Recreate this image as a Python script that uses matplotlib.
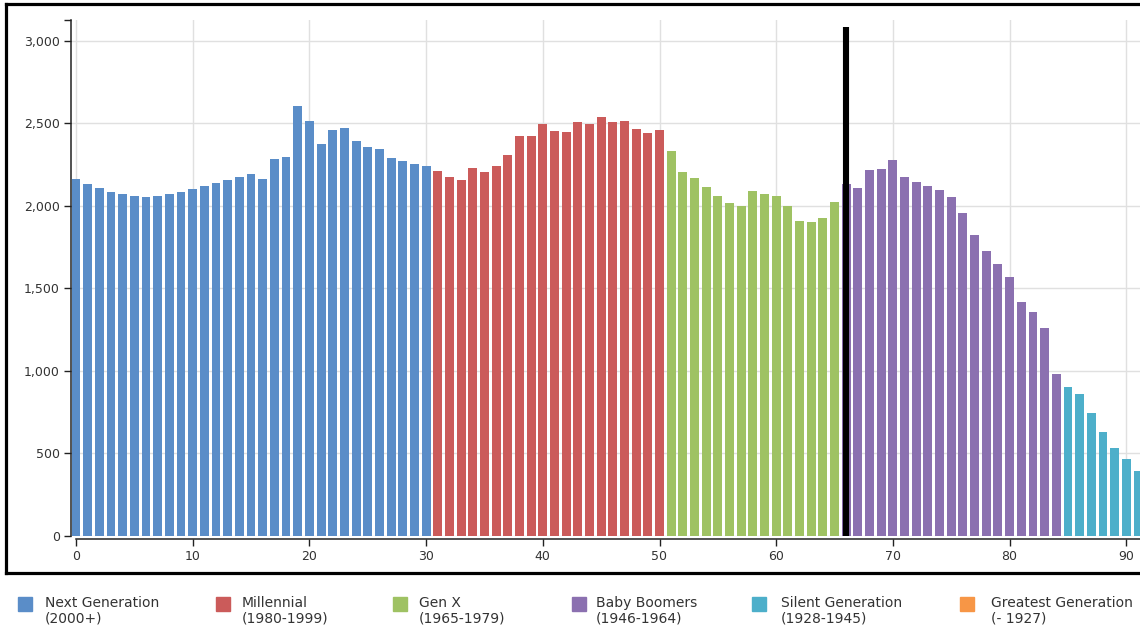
import matplotlib
matplotlib.use("Agg")
import matplotlib.pyplot as plt
from matplotlib.lines import Line2D
from matplotlib.patches import Rectangle
from matplotlib.ticker import FuncFormatter

# ---------------- data ----------------
ages = list(range(0, 92))
population = [2164, 2133, 2107, 2087, 2073, 2063, 2057, 2063, 2073, 2087,
              2103, 2121, 2139, 2158, 2176, 2192, 2162, 2283, 2299, 2606,
              2517, 2376, 2461, 2471, 2392, 2360, 2347, 2289, 2273, 2253,
              2241, 2214, 2176, 2156, 2232, 2204, 2245, 2311, 2422, 2424,
              2497, 2455, 2451, 2511, 2495, 2537, 2507, 2515, 2465, 2440,
              2463, 2331, 2208, 2172, 2117, 2061, 2020, 2000, 2093, 2073,
              2063, 2000, 1909, 1905, 1925, 2026, 2131, 2107, 2216, 2222,
              2277, 2174, 2147, 2123, 2099, 2055, 1958, 1824, 1727, 1646,
              1572, 1416, 1360, 1259, 982, 901, 859, 748, 628, 531,
              467, 392]

gen_names = ["Next Generation", "Millennial", "Gen X", "Baby Boomers",
             "Silent Generation", "Greatest Generation"]
gen_years = ["(2000+)", "(1980-1999)", "(1965-1979)", "(1946-1964)",
             "(1928-1945)", "(- 1927)"]
gen_first_age = [0, 31, 51, 66, 85, 103]
gen_colors = ["#5a8dc8", "#cb5b5a", "#9fc263", "#8b70b0", "#4dafca", "#f79646"]

marker_age = 66
marker_top = 3085

x_ticks = [0, 10, 20, 30, 40, 50, 60, 70, 80, 90]
y_ticks = [0, 500, 1000, 1500, 2000, 2500, 3000]
y_max = 3127

# ---------------- figure ----------------
W, H = 1140, 633
fig = plt.figure(figsize=(W / 100, H / 100), dpi=100)

def fx(px):
    return px / W

def fy(py):
    return 1 - py / H

# axes geometry (pixels)
ax_left, ax_right = 71, 1140
ax_top, ax_bottom = 20, 536
ax = fig.add_axes([fx(ax_left), fy(ax_bottom), fx(ax_right - ax_left),
                   (ax_bottom - ax_top) / H])

def gen_color(age):
    c = gen_colors[0]
    for start, col in zip(gen_first_age, gen_colors):
        if age >= start:
            c = col
    return c

bar_colors = [gen_color(a) for a in ages]
ax.bar(ages, population, width=0.76, color=bar_colors, zorder=2)

ax.plot([marker_age, marker_age], [0, marker_top], color="black", lw=4.4,
        solid_capstyle="butt", zorder=3)

px_per_unit = 11.67
x0_px = 76
ax.set_xlim((ax_left - x0_px) / px_per_unit, (ax_right - x0_px) / px_per_unit)
ax.set_ylim(0, y_max)

ax.set_xticks(x_ticks)
ax.set_yticks(y_ticks)
ax.set_yticks([y_max], minor=True)
ax.yaxis.set_major_formatter(FuncFormatter(lambda v, p: f"{int(v):,}"))

ax.grid(True, color="#e0e0e0", lw=1, zorder=0)
ax.set_axisbelow(True)

for s in ["top", "right"]:
    ax.spines[s].set_visible(False)
ax.spines["left"].set_bounds(0, y_max)
ax.spines["left"].set_color("#222222")
ax.spines["left"].set_linewidth(1.1)
ax.spines["bottom"].set_position(("outward", 2))
ax.spines["bottom"].set_bounds(0, 95)
ax.spines["bottom"].set_color("#222222")
ax.spines["bottom"].set_linewidth(1.1)

ax.tick_params(axis="both", which="both", length=5, width=1, color="#222222",
               labelsize=9, labelcolor="#333333", pad=3)
ax.tick_params(axis="y", which="minor", labelleft=False)

# ---------------- outer frame ----------------
frame_kw = dict(color="black", lw=2.3, transform=fig.transFigure,
                solid_capstyle="projecting")
fig.add_artist(Line2D([fx(6), fx(1140)], [fy(4), fy(4)], **frame_kw))
fig.add_artist(Line2D([fx(6), fx(6)], [fy(4), fy(573)], **frame_kw))
fig.add_artist(Line2D([fx(6), fx(1140)], [fy(573), fy(573)], **frame_kw))

# ---------------- legend ----------------
sq_x = [18, 216, 393, 572, 752, 960]
txt_x = [45, 242, 419, 596, 781, 991]
sq_size = 14
for i, name in enumerate(gen_names):
    fig.add_artist(Rectangle((fx(sq_x[i]), fy(611)), fx(sq_size), sq_size / H,
                             transform=fig.transFigure, color=gen_colors[i]))
    fig.text(fx(txt_x[i]), fy(603), name, fontsize=10, color="#333333",
             va="center", ha="left")
    fig.text(fx(txt_x[i]), fy(619), gen_years[i], fontsize=10,
             color="#333333", va="center", ha="left")

fig.savefig("out.png", dpi=100)
